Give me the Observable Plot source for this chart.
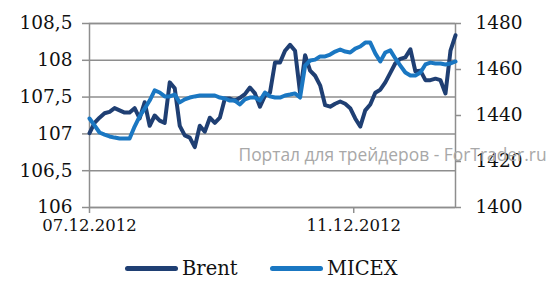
<!DOCTYPE html>
<html><head><meta charset="utf-8">
<script src="https://cdn.jsdelivr.net/npm/d3@7"></script>
<script src="https://cdn.jsdelivr.net/npm/@observablehq/plot@0.6"></script>
<style>
body{margin:0;background:#fff;}
#wrap{position:relative;width:554px;height:288px;overflow:hidden;background:#fff;}
#legend{position:absolute;left:0;top:255px;width:554px;height:26px;font-family:"DejaVu Serif",serif;font-size:19.5px;color:#111;}
.item{position:absolute;top:0;height:26px;display:flex;align-items:center;}
.sw{width:53px;height:5px;border-radius:3px;margin-right:4px;}
</style></head><body><div id="wrap"><div id="chart"></div><div id="legend"></div></div>
<script>
// Brent (left axis), one value per sample
const brent = [107.01,107.15,107.22,107.28,107.30,107.35,107.32,107.29,107.29,107.35,
  107.21,107.43,107.11,107.25,107.18,107.15,107.70,107.62,107.11,106.98,
  106.95,106.82,107.11,107.03,107.22,107.15,107.22,107.48,107.48,107.45,
  107.49,107.54,107.63,107.55,107.37,107.52,107.56,107.97,107.97,108.13,
  108.21,108.13,107.56,108.07,107.86,107.79,107.66,107.39,107.37,107.41,
  107.44,107.41,107.35,107.21,107.10,107.32,107.40,107.56,107.60,107.70,
  107.83,107.96,108.02,108.04,108.15,107.85,107.86,107.73,107.73,107.75,
  107.73,107.55,108.13,108.34];
// MICEX (right axis)
const micex = [1438.7,1435.7,1432.6,1431.7,1430.9,1430.4,1430.0,1430.0,1430.0,1435.2,
  1439.6,1443.0,1446.5,1450.9,1450.0,1448.3,1448.3,1449.1,1445.7,1447.0,
  1447.8,1448.3,1448.7,1448.7,1448.7,1448.7,1447.8,1447.4,1446.5,1446.5,
  1444.8,1447.0,1447.8,1447.8,1446.5,1450.0,1448.3,1447.8,1447.8,1448.7,
  1449.1,1449.6,1447.8,1461.7,1463.9,1464.3,1465.7,1465.7,1466.5,1467.8,
  1468.7,1467.8,1467.4,1469.1,1470.0,1471.7,1471.7,1467.0,1463.5,1467.4,
  1468.3,1464.8,1461.7,1458.7,1457.4,1457.4,1458.7,1462.2,1463.0,1462.6,
  1462.6,1462.2,1462.6,1463.5];
const seriesNames = ["Brent", "MICEX"];
const seriesColors = ["#1f3f73", "#1a77c2"];
const dateLabels = ["07.12.2012", "11.12.2012"];
const dateTickIndex = [0, 52.7];
const brentTicks = [106, 106.5, 107, 107.5, 108, 108.5];
const micexTicks = [1400, 1420, 1440, 1460, 1480];
const watermark = "Портал для трейдеров - ForTrader.ru";

const bDom = [106, 108.5], mDom = [1400, 1480];
const toLeft = m => bDom[0] + (m - mDom[0]) * (bDom[1] - bDom[0]) / (mDom[1] - mDom[0]);
const toRight = b => mDom[0] + (b - bDom[0]) * (mDom[1] - mDom[0]) / (bDom[1] - bDom[0]);

const rows = brent.map((v, i) => ({i, v, s: seriesNames[0]}))
  .concat(micex.map((m, i) => ({i, v: toLeft(m), s: seriesNames[1]})));

const grid = "#8e8e8e";
const chart = Plot.plot({
  width: 554, height: 240,
  marginLeft: 89, marginRight: 99, marginTop: 23, marginBottom: 33,
  style: {fontFamily: "DejaVu Serif", background: "white", color: "#111"},
  x: {domain: [0, brent.length - 1], axis: null},
  y: {domain: bDom, axis: null},
  color: {domain: seriesNames, range: seriesColors},
  marks: [
    Plot.ruleY(brentTicks, {stroke: grid, strokeWidth: 1.5}),
    Plot.frame({stroke: grid, strokeWidth: 1.5}),
    Plot.axisY(brentTicks, {anchor: "left", label: null, tickSize: 7, tickPadding: 10, stroke: grid, strokeWidth: 1.5, fill: "#111",
      fontSize: 18.5, tickFormat: d => String(d).replace(".", ",")}),
    Plot.axisY(micexTicks.map(toLeft), {anchor: "right", label: null, tickSize: 5, tickPadding: 15, stroke: grid, strokeWidth: 1.5, fill: "#111",
      fontSize: 18.5, tickFormat: d => String(Math.round(toRight(d)))}),
    Plot.axisX(dateTickIndex, {anchor: "bottom", label: null, tickSize: 6, tickPadding: 6, stroke: grid, strokeWidth: 1.5, fill: "#111",
      fontSize: 16.5, tickFormat: (d, i) => dateLabels[i]}),
    Plot.text([watermark], {frameAnchor: "top-left", dx: 238 - 89, dy: 160 - 23, textAnchor: "start", lineAnchor: "bottom",
      fontSize: 17.4, fontFamily: "Open Sans", fill: "#a8a8a8"}),
    Plot.line(rows, {x: "i", y: "v", z: "s", stroke: "s", strokeWidth: 4, strokeLinejoin: "round", strokeLinecap: "round"})
  ]
});
document.getElementById("chart").appendChild(chart);

const legend = document.getElementById("legend");
const legendLeft = [125, 270];
seriesNames.forEach((n, k) => {
  const it = document.createElement("div");
  it.className = "item";
  it.style.left = legendLeft[k] + "px";
  it.innerHTML = `<div class="sw" style="background:${seriesColors[k]}"></div><span>${n}</span>`;
  legend.appendChild(it);
});
</script>
</body></html>
